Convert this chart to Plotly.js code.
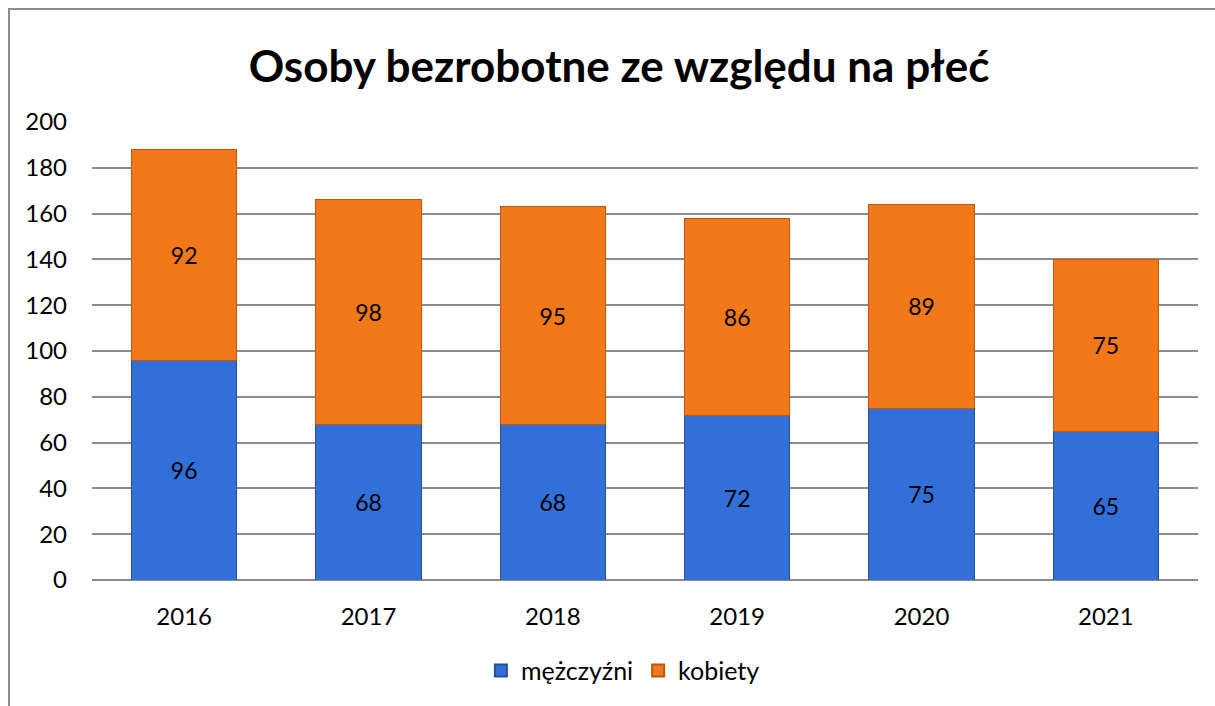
<!DOCTYPE html>
<html>
<head>
<meta charset="utf-8">
<script src="https://cdn.plot.ly/plotly-3.0.1.min.js"></script>
<style>
  html, body { margin: 0; padding: 0; overflow: hidden; background: #fff; }
  #chart { width: 1215px; height: 706px; }
  #frame { position: absolute; left: 8px; top: 8px; width: 1400px; height: 900px;
           border: 2px solid #8c8c8c; pointer-events: none; }
</style>
</head>
<body>
<div id="chart"></div>
<div id="frame"></div>
<script>
const years = ['2016', '2017', '2018', '2019', '2020', '2021'];
const men = [96, 68, 68, 72, 75, 65];
const women = [92, 98, 95, 86, 89, 75];
const seriesNames = ['mężczyźni', 'kobiety'];
const yTicks = [0, 20, 40, 60, 80, 100, 120, 140, 160, 180, 200];

const FONT = 'Lato, "Open Sans", sans-serif';

const common = {
  type: 'bar',
  x: years,
  textposition: 'inside',
  insidetextanchor: 'middle',
  textangle: 0,
  insidetextfont: { family: FONT, size: 23, color: '#000' },
  hoverinfo: 'skip'
};

const traces = [
  Object.assign({}, common, {
    name: seriesNames[0],
    y: men,
    text: men.map(String),
    marker: { color: '#326fd8', line: { color: '#24509f', width: 1 } }
  }),
  Object.assign({}, common, {
    name: seriesNames[1],
    y: women,
    text: women.map(String),
    marker: { color: '#f2781a', line: { color: '#b95a12', width: 1 } }
  })
];

const layout = {
  width: 1215, height: 706,
  margin: { l: 92, r: 17, t: 122, b: 124, pad: 0 },
  paper_bgcolor: '#fff', plot_bgcolor: '#fff',
  barmode: 'stack',
  bargap: 0.43,
  title: {
    text: '<b>Osoby bezrobotne ze względu na płeć</b>',
    font: { family: FONT, size: 44, color: '#000' },
    x: 619 / 1215, xanchor: 'center', xref: 'container',
    y: 1 - 67 / 706, yanchor: 'middle', yref: 'container'
  },
  font: { family: FONT, size: 23, color: '#000' },
  xaxis: {
    type: 'category',
    showgrid: false, zeroline: false, showline: false,
    ticks: '', ticklabelstandoff: 20,
    tickfont: { family: FONT, size: 24, color: '#000' }
  },
  yaxis: {
    range: [0, 200],
    tickvals: yTicks,
    ticktext: yTicks.map(String),
    showgrid: true, gridcolor: '#8c8c8c', gridwidth: 2,
    zeroline: true, zerolinecolor: '#8c8c8c', zerolinewidth: 2,
    showline: false, ticks: '', ticklabelstandoff: 24,
    tickfont: { family: FONT, size: 24, color: '#000' }
  },
  showlegend: true,
  legend: {
    orientation: 'h',
    x: 0.48, xanchor: 'center',
    y: -0.198, yanchor: 'middle',
    font: { family: FONT, size: 25, color: '#000' },
    itemsizing: 'constant',
    itemwidth: 30,
    traceorder: 'normal'
  }
};

Plotly.newPlot('chart', traces, layout, { displayModeBar: false, staticPlot: true });
</script>
</body>
</html>
